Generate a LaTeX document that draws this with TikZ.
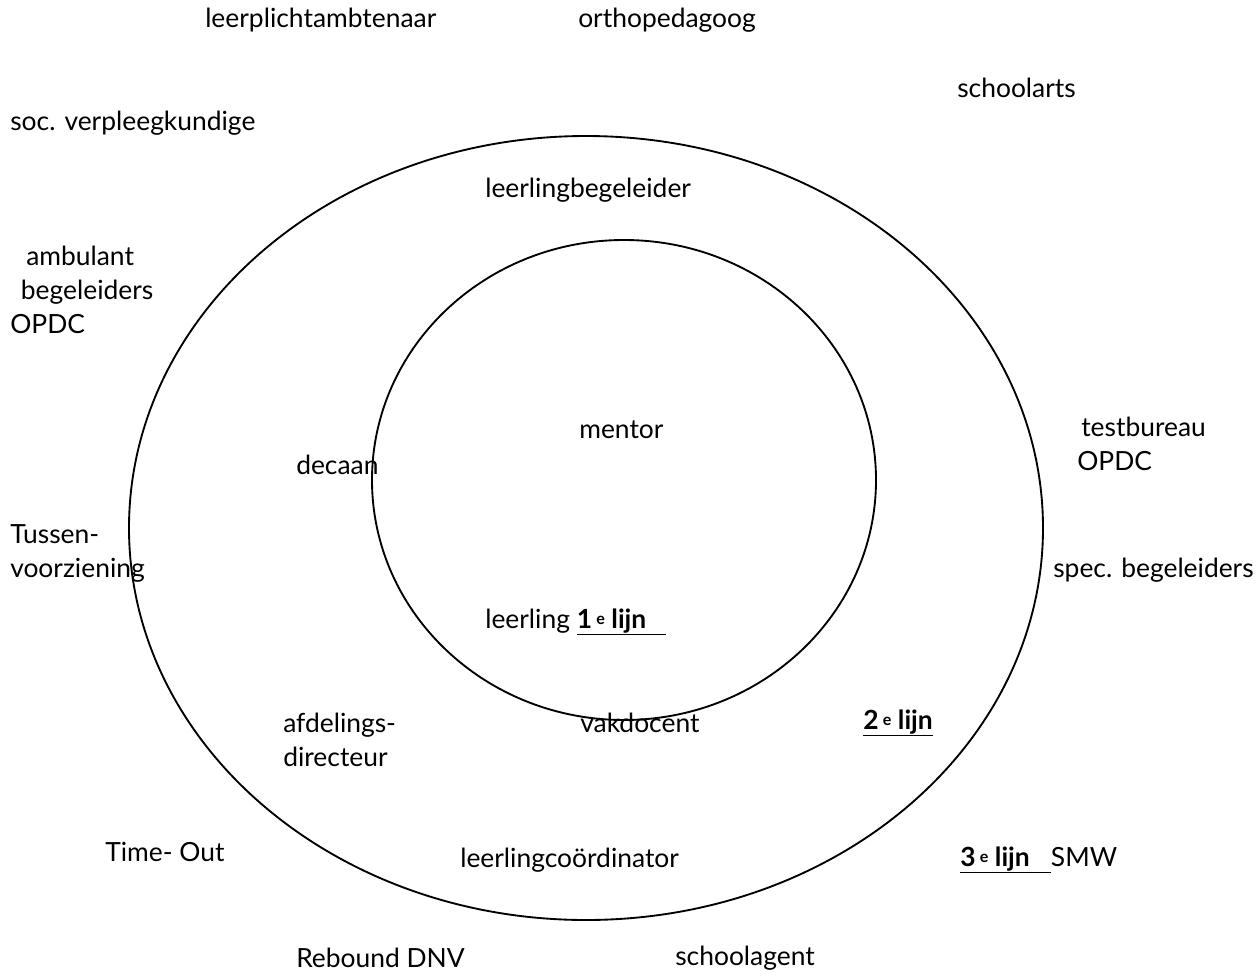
\documentclass[tikz,border=0pt]{standalone}
\usepackage{fontspec}
\setmainfont{Lato}

\tikzset{
  lbl/.style={anchor=west, inner sep=0pt, align=left,
    font=\fontsize{19.8}{25.5}\selectfont},
  ring/.style={line width=1.4pt}
}
\newcommand{\lijn}[2]{\underline{\textbf{#1\,\raisebox{0.3ex}{\fontsize{12}{12}\selectfont e} lijn}\hspace{#2}}}

\begin{document}
\begin{tikzpicture}[x=0.75pt, y=-0.75pt]
    \useasboundingbox (0, 0) rectangle (1260, 979);

    \draw[ring] (586, 528) ellipse [x radius=457, y radius=392];
    \draw[ring] (624, 480) ellipse [x radius=252, y radius=240];

    \node[lbl] (plicht) at (205, 20) {leerplichtambtenaar};
    \node[lbl] (ortho) at (578, 20) {orthopedagoog};
    \node[lbl] (arts) at (957, 88) {schoolarts};
    \node[lbl] (verpl) at (10, 123) {soc. verpleegkundige};
    \node[lbl] (lbeg) at (485, 190) {leerlingbegeleider};
    \node[lbl] (amb) at (10, 290) {\hspace{12pt}ambulant\\\hspace{8pt}begeleiders\\OPDC};

    \node[lbl] (mentor) at (579, 430) {mentor};
    \node[lbl] (test) at (1077, 444) {\hspace{3pt}testbureau\\OPDC};
    \node[lbl] (decaan) at (296, 465) {decaan};
    \node[lbl] (tussen) at (10, 553) {Tussen-\\voorziening};
    \node[lbl] (spec) at (1053, 570) {spec. begeleiders};

    \node[lbl] (leerling) at (485, 622) {leerling \lijn{1}{0.75em}};
    \node[lbl] (afd) at (283, 740) {afdelings-\\directeur};
    \node[lbl] (vak) at (580, 723) {vakdocent};
    \node[lbl] (tweede) at (863, 723) {\lijn{2}{0pt}};

    \node[lbl] (timeout) at (105, 852) {Time- Out};
    \node[lbl] (lcoord) at (460, 860) {leerlingcoördinator};
    \node[lbl] (derde) at (960, 860) {\lijn{3}{0.8em}SMW};
    \node[lbl] (rebound) at (296, 958) {Rebound DNV};
    \node[lbl] (agent) at (675, 958) {schoolagent};
  \end{tikzpicture}
\end{document}
